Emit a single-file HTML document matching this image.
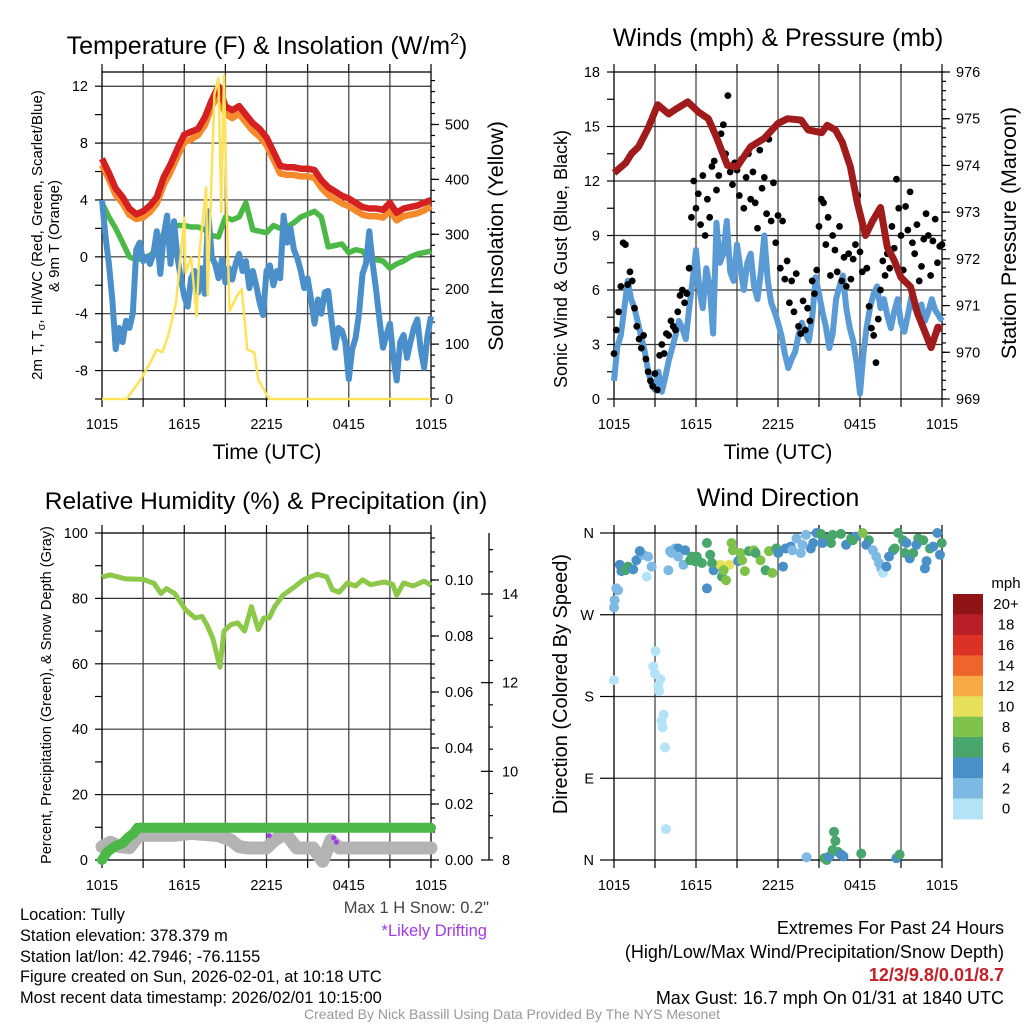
<!DOCTYPE html>
<html><head><meta charset="utf-8"><title>Tully Mesonet Meteogram</title>
<style>
html,body{margin:0;padding:0;background:#fff;}
svg{display:block;font-family:"Liberation Sans",Arial,sans-serif;}
</style></head>
<body>
<svg id="chart" width="1024" height="1024" viewBox="0 0 1024 1024" xmlns="http://www.w3.org/2000/svg">
<rect x="0" y="0" width="1024" height="1024" fill="#fff"/>
<text x="267" y="54" font-size="25" text-anchor="middle">Temperature (F) &amp; Insolation (W/m<tspan font-size="16" dy="-10">2</tspan><tspan dy="10">)</tspan></text>
<text x="778" y="46" font-size="25" text-anchor="middle">Winds (mph) &amp; Pressure (mb)</text>
<text x="266" y="509" font-size="24.5" text-anchor="middle">Relative Humidity (%) &amp; Precipitation (in)</text>
<text x="778" y="506" font-size="25" text-anchor="middle">Wind Direction</text>

<text x="267" y="459" font-size="21" text-anchor="middle">Time (UTC)</text>
<text x="778" y="459" font-size="21" text-anchor="middle">Time (UTC)</text>

<text transform="translate(42,235) rotate(-90)" font-size="15" text-anchor="middle">2m T, T<tspan font-size="11" dy="3">σ</tspan><tspan dy="-3">, HI/WC (Red, Green, Scarlet/Blue)</tspan></text>
<text x="0" y="0" transform="translate(59,236) rotate(-90)" font-size="15" text-anchor="middle">&amp; 9m T (Orange)</text>
<text transform="translate(503,236) rotate(-90)" font-size="21.5" text-anchor="middle">Solar Insolation (Yellow)</text>
<text transform="translate(567,259) rotate(-90)" font-size="18" text-anchor="middle">Sonic Wind &amp; Gust (Blue, Black)</text>
<text transform="translate(1016,233) rotate(-90)" font-size="21.5" text-anchor="middle">Station Pressure (Maroon)</text>
<text transform="translate(51,695) rotate(-90)" font-size="14.5" text-anchor="middle">Percent, Precipitation (Green), &amp; Snow Depth (Gray)</text>
<text transform="translate(567,684) rotate(-90)" font-size="20" text-anchor="middle">Direction (Colored By Speed)</text>

<g font-size="16.4" fill="#000">
<text x="20" y="920">Location: Tully</text>
<text x="20" y="941">Station elevation: 378.379 m</text>
<text x="20" y="962">Station lat/lon: 42.7946; -76.1155</text>
<text x="20" y="982">Figure created on Sun, 2026-02-01, at 10:18 UTC</text>
<text x="20" y="1003">Most recent data timestamp: 2026/02/01 10:15:00</text>
</g>
<text x="489" y="913" font-size="16.5" fill="#444" text-anchor="end">Max 1 H Snow: 0.2"</text>
<text x="487" y="936" font-size="16.5" fill="#a03ce8" text-anchor="end">*Likely Drifting</text>
<g font-size="18" text-anchor="end">
<text x="1004" y="934">Extremes For Past 24 Hours</text>
<text x="1004" y="958">(High/Low/Max Wind/Precipitation/Snow Depth)</text>
<text x="1004" y="981" fill="#c4202a" font-weight="bold">12/3/9.8/0.01/8.7</text>
<text x="1004" y="1004">Max Gust: 16.7 mph On 01/31 at 1840 UTC</text>
</g>
<text x="512" y="1019" font-size="14" fill="#999" text-anchor="middle">Created By Nick Bassill Using Data Provided By The NYS Mesonet</text>
</svg>
<script>
// ---------- DATA ----------
const xTickLabels = ["1015","1615","2215","0415","1015"];
const xTickHours = [0,6,12,18,24];
// Panel 1 (30-min samples, 0..24 h)
const tempRed = [6.9,5.9,4.8,4.2,3.4,3.0,3.2,3.6,4.2,5.6,6.5,7.6,8.6,8.8,9.0,9.8,11.0,12.0,10.6,10.3,10.6,10.0,9.4,9.0,8.4,7.4,6.4,6.3,6.3,6.2,6.2,6.1,5.4,4.9,4.6,4.3,4.1,3.8,3.5,3.4,3.4,3.3,3.8,3.1,3.4,3.5,3.6,3.8,4.0];
const temp9m = [6.6,5.6,4.5,3.9,3.1,2.8,2.9,3.3,3.9,5.2,6.1,7.2,8.2,8.4,8.7,9.4,10.7,11.6,10.2,9.9,10.2,9.6,9.0,8.6,8.0,7.0,6.0,5.9,5.9,5.8,5.8,5.7,5.0,4.5,4.2,3.9,3.7,3.4,3.1,3.0,3.0,2.9,3.4,2.7,3.0,3.1,3.2,3.4,3.7];
const dewGreen = [3.8,2.8,2.0,1.0,0.0,-0.2,-0.1,0.1,0.5,1.7,2.0,2.2,2.2,2.1,2.1,1.9,1.5,1.4,2.8,2.6,2.8,3.8,1.9,1.8,1.7,2.2,2.0,2.1,2.4,2.8,3.0,3.2,2.8,0.7,0.8,0.9,0.3,0.5,0.4,-0.2,-0.2,-0.3,-0.8,-0.5,-0.3,0.0,0.2,0.3,0.4];
// 15-min samples
const windChill = [4.0,1.5,-0.5,-3.0,-6.5,-5.0,-6.0,-4.5,-5.0,-4.0,0.5,1.0,-0.3,0.0,-0.5,0.2,1.8,-1.2,1.5,2.9,-0.5,2.5,0.0,-1.5,-2.8,-3.5,-1.5,-1.0,-2.5,-0.8,-2.6,3.2,0.0,-0.5,-1.5,-0.2,-1.8,-0.8,-1.6,-0.5,0.2,-1.0,-0.3,-2.2,-1.0,-2.0,-3.2,-4.1,-1.0,-0.6,-2.0,-1.0,-1.5,2.9,1.0,2.0,0.5,-0.1,-1.0,-2.2,-1.5,-3.0,-4.7,-3.0,-4.0,-2.5,-2.4,-4.5,-6.4,-5.0,-5.2,-6.0,-8.6,-6.5,-5.7,-4.0,-1.2,-0.5,1.8,-0.5,-2.4,-4.5,-6.4,-5.5,-4.7,-7.0,-8.7,-6.0,-5.5,-7.1,-6.0,-5.0,-4.4,-6.5,-7.8,-5.5,-4.2];
const insolHours = [0,1.8,2.8,3.5,4.0,4.4,4.8,5.4,6.0,6.1,6.5,6.9,7.1,7.6,7.7,8.2,8.5,8.7,8.9,9.1,9.3,9.9,10.2,10.6,11.1,11.4,12.2,24];
const insolVals  = [0,0,35,65,90,85,113,175,330,230,258,150,265,385,190,555,585,340,590,350,160,190,200,90,85,35,0,0];
// Panel 2
const presHours = [0,0.85,1.3,1.8,2.5,3.2,4.0,4.5,5.4,6.2,6.9,7.5,8.3,9.0,10.0,11.0,12.0,12.7,13.7,14.2,15.2,15.6,16.2,16.7,17.3,17.8,18.4,18.9,19.5,20.0,20.5,21.0,21.7,22.2,22.8,23.2,23.7,24];
const presVals  = [973.84,974.05,974.26,974.4,974.8,975.3,975.1,975.2,975.36,975.14,975.0,974.6,974.0,973.97,974.4,974.58,974.9,975.0,974.97,974.76,974.7,974.86,974.76,974.5,973.97,973.2,972.5,972.8,973.1,972.25,971.97,971.6,971.4,970.84,970.4,970.1,970.54,970.5];
const windSpd = [1.0,2.9,3.5,5.0,6.5,5.5,5.0,4.2,3.4,2.6,1.5,0.8,0.5,1.5,0.4,1.2,2.1,2.8,3.5,4.3,3.9,3.3,5.0,6.5,8.2,6.0,5.0,7.2,6.2,3.6,9.7,7.5,8.0,9.8,7.0,6.5,8.5,7.2,6.0,7.5,8.0,6.2,5.5,7.0,9.0,6.5,5.3,4.8,4.2,3.5,2.5,1.7,2.2,2.6,3.5,4.2,3.6,3.2,4.5,6.7,5.8,4.8,4.0,2.8,3.6,5.5,6.2,6.8,5.0,3.9,3.2,2.0,0.3,2.5,4.0,5.1,5.8,6.2,5.0,5.5,4.6,3.9,4.8,5.5,4.2,3.7,4.6,5.6,5.0,4.8,5.2,4.3,4.8,5.5,4.9,4.6,4.3];
const gustSpd = [2.5,3.8,4.8,6.2,8.6,8.5, 6.3,7.0,6.5,5.0,4.0,3.3, 2.8,3.5,2.2,1.5,1.0,0.7, 1.4,0.5,2.4,3.0,2.5,3.6, 3.5,4.3,4.0,3.8,4.8,5.7, 6.0,5.3,5.8,7.2,10.0,12.0, 10.5,11.3,9.6,12.3,9.0,11.0, 10.0,12.8,13.1,11.5,12.3,14.6, 15.1,13.5,16.7,12.5,11.8,13.0, 12.6,11.2,13.2,10.5,12.2,13.5, 11.0,12.5,10.8,9.4,13.7,11.6, 12.2,10.2,14.3,9.8,11.9,8.6, 10.1,7.2,9.8,6.6,7.6,5.3, 6.5,4.8,6.9,4.0,3.6,5.4, 3.8,5.0,4.3,6.5,5.8,7.1, 9.5,11.0,10.8,8.5,10.0,6.8, 9.0,8.2,7.0,9.5,6.5,7.8, 6.2,8.0,6.6,7.7,8.5,11.2, 8.1,7.0,9.4,7.2,5.1,3.9, 3.5,2.0,4.4,6.0,7.6,6.8, 8.0,7.2,9.5,8.3,12.1,10.5, 9.0,7.1,10.6,9.3,11.4,8.6, 8.0,9.6,6.5,7.3,8.8,10.2, 9.0,6.8,8.7,9.9,7.5,8.4, 8.5];
// Panel 3
const rhHours = [0,0.6,1.7,3.0,3.8,4.3,4.7,5.3,6.1,6.8,7.3,7.7,8.1,8.6,8.9,9.4,9.9,10.4,10.9,11.4,11.8,12.2,12.6,13.2,14.0,14.7,15.7,16.4,16.8,17.3,17.9,18.5,19.0,19.6,20.6,21.2,21.5,22.0,22.7,23.5,24];
const rhVals  = [86.5,87.2,86,85.8,84.6,81.5,83,81.5,76.5,74,74.5,71.5,67.6,59,70,72,72.5,70,77.5,70.5,74,74,77.5,81,83.4,85.7,87.4,86.6,82.7,81.9,84.7,83.8,85.7,84.2,85,84.3,81,84.7,83.8,85.3,84];
const precipHours = [0,0.4,1.0,1.5,1.9,2.3,2.6,24];
const precipVals  = [0,0.003,0.005,0.006,0.008,0.0095,0.0115,0.0115];
const snowHours = [0,0.6,1.3,2.0,2.7,5.4,6.5,8.5,9.4,10.0,10.7,12.0,12.6,13.4,14.2,15.4,15.8,16.1,16.7,17.3,24];
const snowVals  = [8.3,8.4,8.3,8.28,8.56,8.56,8.6,8.55,8.45,8.3,8.27,8.27,8.45,8.6,8.27,8.27,8.1,7.97,8.45,8.27,8.27];
const driftHours = [12.2,16.9,17.1];
const driftVals  = [8.55,8.5,8.4];
// Panel 4
const dirHours = [0,0,0.05,0.17,0.3,0.42,0.54,0.83,1.03,1.4,1.64,2.13,2.5,2.4,2.75,3.04,2.87,3.0,3.39,3.24,3.3,3.63,3.48,3.56,3.73,3.8,3.98,4.1,4.47,4.7,5.2,5.08,5.57,5.94,6.43,6.8,6.8,7.04,7.29,7.78,8.44,7.9,8.2,8.02,8.6,8.7,9.08,9.25,9.57,9.87,10.23,10.72,11.09,11.34,11.58,11.88,12.02,12.37,12.56,12.93,13.35,13.67,14.04,14.4,14.58,14.82,15.14,15.5,15.88,16.0,16.6,16.98,17.35,17.67,18.2,18.65,18.45,18.94,19.19,19.39,19.56,19.68,19.93,20.12,20.42,20.54,20.79,21.15,21.28,21.64,21.89,22.26,22.13,22.75,22.87,23.12,23.36,23.66,23.85,23.98,14.09,15.39,15.56,15.75,16.0,16.1,16.2,16.37,16.61,16.79,18.09,20.66,20.9,5.69,6.06,7.17,9.37,10.36,13.05,13.79,15.26,17.47,21.4,22.63,1.89,4.22,4.7];
const dirDeg = [198,278,286,299,297,325,318,319,323,320,330,336,334,312,323,230,213,205,199,192,186,160,153,146,124,34,319,340,343,343,341,325,330,329,327,349,299,336,319,325,325,312,308,319,349,341,329,338,318,340,341,330,319,340,316,343,338,323,343,345,354,338,358,343,349,360,359,354,349,358,359,347,354,356,360,352,347,341,334,327,321,316,323,334,341,343,360,352,338,332,338,354,347,321,329,343,345,360,336,349,3,2,0,4,11,31,21,9,6,4,7,2,6,334,334,327,330,338,341,347,349,352,349,352,340,338,334];
const dirSpd = [1,3,3,2,2,4,4,6,6,4,4,3,3,1,2,1,1,1,1,1,1,1,1,1,1,1,2,3,3,4,4,2,6,6,7,6,4,6,4,10,10,6,8,8,8,8,4,8,8,6,8,8,6,8,8,6,4,4,4,4,3,3,3,4,4,4,6,6,6,6,6,4,6,4,8,6,4,3,2,2,2,1,4,4,4,6,6,6,6,4,6,6,4,4,4,6,4,4,4,6,3,6,6,4,6,6,6,6,4,4,6,4,6,6,6,6,8,6,2,3,4,6,4,6,4,2,2];
const speedBinLabels = ["0","2","4","6","8","10","12","14","16","18","20+"];
const speedBinColors = ["#b4e3f8","#7db9e3","#4a90c8","#48a56c","#7ec24b","#e6df58","#f6a945","#ef632c","#dc3127","#b81f26","#8f1418"];

// ---------- HELPERS ----------
const NS = 'http://www.w3.org/2000/svg';
const svg = document.getElementById('chart');
function mk(tag, attrs, parent) {
  const e = document.createElementNS(NS, tag);
  for (const k in attrs) e.setAttribute(k, attrs[k]);
  (parent || svg).appendChild(e);
  return e;
}
function group(name) {
  const g = mk('g', {});
  
  
  return g;
}
function lineEl(g, x1, y1, x2, y2, stroke, w) {
  return mk('line', {x1:x1, y1:y1, x2:x2, y2:y2, stroke:stroke, 'stroke-width':w}, g);
}
function textEl(g, x, y, s, anchor, size) {
  const t = mk('text', {x:x, y:y, 'text-anchor':anchor || 'middle', 'font-size':size || 14}, g);
  t.textContent = s;
  return t;
}
function pts(xs, ys, fx, fy) {
  return xs.map((x, i) => fx(x).toFixed(1) + ',' + fy(ys[i]).toFixed(1)).join(' ');
}
function idxHours(arr) { return arr.map((_, i) => i * 24 / (arr.length - 1)); }

function panelFrame(name, L, R, T, B, hGridVals, fy) {
  const g = group(name + '-grid');
  const fx = h => L + h * (R - L) / 24;
  for (let h = 3; h < 24; h += 3) {
    const gl = lineEl(g, fx(h), T, fx(h), B, '#555', 1.4);
    
    
  }
  hGridVals.forEach(v => {
    const gl = lineEl(g, L, fy(v), R, fy(v), '#333', 1.2);
    
    
  });
  const fr = mk('rect', {x:L, y:T, width:R - L, height:B - T, fill:'none', stroke:'#000', 'stroke-width':1.3}, g);
  
  
  const ax = group(name + '-x-axis');
  for (let h = 0; h <= 24; h += 3) {
    lineEl(ax, fx(h), B, fx(h), B + 8, '#000', 1.2);
    lineEl(ax, fx(h), T, fx(h), T - 8, '#000', 1.2);
  }
  xTickHours.forEach((h, i) => {
    const t = textEl(ax, fx(h), B + 30, xTickLabels[i], 'middle', 14.5);
    
    
  });
  return fx;
}
function yTicks(name, x, dir, vals, fy, labelVals, fmt, len) {
  const g = group(name);
  vals.forEach(v => lineEl(g, x, fy(v), x + dir * (len || 7), fy(v), '#000', 1.2));
  labelVals.forEach(v => {
    const t = textEl(g, x + dir * 14, fy(v) + 5, fmt(v), dir < 0 ? 'end' : 'start', 14.5);
    
    
  });
}
function range(a, b, s) { const r = []; for (let v = a; v <= b + 1e-9; v += s) r.push(+v.toFixed(4)); return r; }

// ---------- PANEL 1 ----------
(function(){
  const L = 102, R = 431, T = 72, B = 399;
  const yT = v => B - (v + 10) * (B - T) / 23;
  const yS = v => B - v * (B - T) / 595.6;
  const fx = panelFrame('temperature', L, R, T, B, [12, 8, 4, 0, -4, -8], yT);
  yTicks('temperature-y-axis', L, -1, range(-10, 12, 2), yT, [12, 8, 4, 0, -4, -8], v => String(v));
  yTicks('insolation-minor-ticks', R, 1, range(0, 580, 20), yS, [], v => '', 4);
  yTicks('insolation-y-axis', R, 1, range(0, 500, 100), yS, range(0, 500, 100), v => String(v), 8);
  const g = group('temperature-series');
  const hh = idxHours(tempRed);
  const l1 = mk('polyline', {points: pts(hh, temp9m, fx, v => yT(v) + 2), fill:'none', stroke:'#f58a2c', 'stroke-width':6.5, 'stroke-linejoin':'round'}, g);
  
  
  const l2 = mk('polyline', {points: pts(hh, tempRed, fx, yT), fill:'none', stroke:'#d42020', 'stroke-width':6.5, 'stroke-linejoin':'round'}, g);
  
  
  const l3 = mk('polyline', {points: pts(idxHours(dewGreen), dewGreen, fx, yT), fill:'none', stroke:'#4cb848', 'stroke-width':5.5, 'stroke-linejoin':'round'}, g);
  
  
  const l4 = mk('polyline', {points: pts(idxHours(windChill), windChill, fx, yT), fill:'none', stroke:'#4a8fc9', 'stroke-width':6, 'stroke-linejoin':'round'}, g);
  
  
  const l5 = mk('polyline', {points: pts(insolHours, insolVals, fx, yS), fill:'none', stroke:'#fde25a', 'stroke-width':2.5, 'stroke-linejoin':'round'}, g);
  
  
})();

// ---------- PANEL 2 ----------
(function(){
  const L = 614, R = 942, T = 72, B = 399;
  const yW = v => B - v * (B - T) / 18;
  const yP = p => B - (p - 969) * (B - T) / 7;
  const fx = panelFrame('winds', L, R, T, B, [3, 6, 9, 12, 15], yW);
  yTicks('wind-y-axis', L, -1, range(0, 18, 1.5), yW, range(0, 18, 3), v => String(v));
  yTicks('pressure-minor-ticks', R, 1, range(969, 976, 0.2), yP, [], v => '', 4);
  yTicks('pressure-y-axis', R, 1, range(969, 976, 1), yP, range(969, 976, 1), v => String(v), 8);
  const g = group('winds-series');
  const wl = mk('polyline', {points: pts(idxHours(windSpd), windSpd, fx, yW), fill:'none', stroke:'#5b9bd5', 'stroke-width':6, 'stroke-linejoin':'round'}, g);
  
  
  const gh = idxHours(gustSpd);
  gustSpd.forEach((v, i) => {
    const c = mk('circle', {cx: fx(gh[i]), cy: yW(v), r: 3.4, fill:'#000'}, g);
    
    
  });
  const pl = mk('polyline', {points: pts(presHours, presVals, fx, yP), fill:'none', stroke:'#a01c1c', 'stroke-width':7, 'stroke-linejoin':'round'}, g);
  
  
})();

// ---------- PANEL 3 ----------
(function(){
  const L = 102, R = 431, T = 533, B = 860;
  const yRH = v => B - v * (B - T) / 100;
  const yPr = v => B - v * (B - 580) / 0.1;
  const ySn = v => B - (v - 8) * (B - 594) / 6;
  const fx = panelFrame('humidity', L, R, T, B, [20, 40, 60, 80], yRH);
  yTicks('humidity-y-axis', L, -1, range(0, 100, 10), yRH, range(0, 100, 20), v => String(v));
  yTicks('precip-minor-ticks', R, 1, range(0, 0.115, 0.005), yPr, [], v => '', 4);
  yTicks('precip-y-axis', R, 1, range(0, 0.1, 0.02), yPr, range(0, 0.1, 0.02), v => v.toFixed(2), 8);
  const ax2 = group('snow-depth-axis');
  lineEl(ax2, 489, T, 489, B, '#000', 1.3);
  yTicks('snow-minor-ticks', 489, 1, range(8, 15.2, 0.5), ySn, [], v => '', 4);
  yTicks('snow-y-axis', 489, -1, range(8, 14, 2), ySn, [], v => '', 8);
  const sg = group('snow-tick-labels');
  range(8, 14, 2).forEach(v => {
    const t = textEl(sg, 502, ySn(v) + 5, String(v), 'start', 14.5);
    
    
  });
  const g = group('humidity-series');
  const sn = mk('polyline', {points: pts(snowHours, snowVals, fx, ySn), fill:'none', stroke:'#b3b3b3', 'stroke-width':13, 'stroke-linejoin':'round', 'stroke-linecap':'round'}, g);
  
  
  driftHours.forEach((h, i) => {
    const c = mk('circle', {cx: fx(h), cy: ySn(driftVals[i]), r: 2.5, fill:'#a03ce8'}, g);
    
    
  });
  const pr = mk('polyline', {points: pts(precipHours, precipVals, fx, yPr), fill:'none', stroke:'#4cb848', 'stroke-width':10, 'stroke-linejoin':'round', 'stroke-linecap':'round'}, g);
  
  
  const rh = mk('polyline', {points: pts(rhHours, rhVals, fx, yRH), fill:'none', stroke:'#8dc84b', 'stroke-width':5, 'stroke-linejoin':'round'}, g);
  
  
})();

// ---------- PANEL 4 ----------
(function(){
  const L = 614, R = 942, T = 533, B = 860;
  const yD = d => B - d * (B - T) / 360;
  const fx = panelFrame('direction', L, R, T, B, [90, 180, 270], yD);
  const dirLabels = ["N","E","S","W","N"];
  const ax = group('direction-y-axis');
  [0, 90, 180, 270, 360].forEach((d, i) => {
    lineEl(ax, L, yD(d), L - 14, yD(d), '#000', 1.2);
    const t = textEl(ax, L - 20, yD(d) + 5, dirLabels[i], 'end', 14.5);
    
    
  });
  const g = group('direction-points');
  dirHours.forEach((h, i) => {
    const bin = Math.min(10, Math.floor(dirSpd[i] / 2));
    const c = mk('circle', {cx: fx(h), cy: yD(dirDeg[i]), r: 5, fill: speedBinColors[bin]}, g);
    
    
  });
  const cb = group('speed-colorbar');
  const top = 594, bh = 20.45;
  const ttl = textEl(cb, 1006, 588, 'mph', 'middle', 15);
  
  
  for (let k = 10; k >= 0; k--) {
    const y = top + (10 - k) * bh;
    const r = mk('rect', {x:953, y:y, width:30, height:bh + 0.5, fill:speedBinColors[k]}, cb);
    
    
    const t = textEl(cb, 1006, y + bh / 2 + 5, speedBinLabels[k], 'middle', 15);
    
    
  }
})();
</script>
</body></html>
